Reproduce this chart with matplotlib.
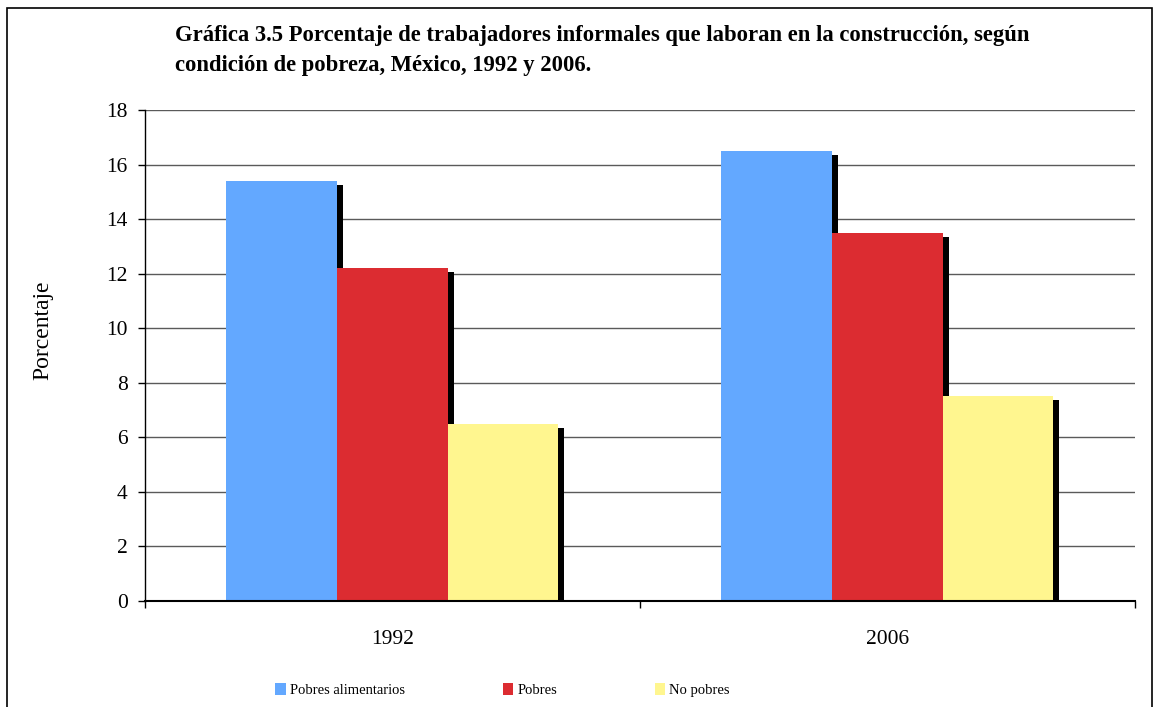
import matplotlib
matplotlib.use("Agg")
import matplotlib.pyplot as plt
import matplotlib.patheffects as pe
import numpy as np
from matplotlib.patches import Rectangle, Patch

plt.rcParams["font.family"] = ["Liberation Serif", "DejaVu Serif"]

# Data
years = ["1992", "2006"]
series_names = ["Pobres alimentarios", "Pobres", "No pobres"]
pobres_alimentarios = [15.4, 16.5]
pobres = [12.2, 13.5]
no_pobres = [6.5, 7.5]
colors = ["#63A8FF", "#DC2C31", "#FFF68F"]

title_1 = "Gráfica 3.5 Porcentaje de trabajadores informales que laboran en la construcción, según"
title_2 = "condición de pobreza, México, 1992 y 2006."

fig = plt.figure(figsize=(11.58, 7.07), dpi=100)
ax = fig.add_axes([0.1252, 0.1499, 0.9801 - 0.1252, 0.8444 - 0.1499])

x = np.arange(len(years))
width = 0.2236
shadow = [pe.SimplePatchShadow(offset=(4.3, -2.9), shadow_rgbFace="black", alpha=1.0), pe.Normal()]

for i, vals in enumerate([pobres_alimentarios, pobres, no_pobres]):
    bars = ax.bar(x + (i - 1) * width, vals, width, color=colors[i],
                  edgecolor="none", zorder=3)
    for b in bars:
        b.set_path_effects(shadow)

ax.set_xlim(-0.5, 1.5)
ax.set_ylim(0, 18)
ax.set_yticks(np.arange(0, 19, 2))
ax.yaxis.grid(True, color="#5a5a5a", linewidth=1.0, zorder=0)
ax.set_axisbelow(True)

ax.set_xticks(x)
ax.set_xticklabels(years)
ax.set_xticks([-0.5, 0.5, 1.5], minor=True)
ax.tick_params(axis="x", which="major", length=0, pad=21, labelsize=15.5)
ax.tick_params(axis="x", which="minor", length=5, width=1, direction="out")
ax.tick_params(axis="y", length=5, width=1, direction="out", labelsize=15.5, pad=7.5)

for s in ["top", "right"]:
    ax.spines[s].set_visible(False)
ax.spines["left"].set_linewidth(1.0)
ax.spines["bottom"].set_linewidth(1.5)
ax.spines["bottom"].set_zorder(4)

ax.set_ylabel("Porcentaje", fontsize=17)
ax.yaxis.set_label_coords(-0.093, 0.552)

fig.text(0.151, 1 - 36 / 707, title_1, ha="left", va="center", fontsize=16.3, fontweight="bold")
fig.text(0.151, 1 - 66 / 707, title_2, ha="left", va="center", fontsize=16.3, fontweight="bold")

handles = [Patch(facecolor=c, edgecolor="none") for c in colors]
fig.legend(handles, series_names, loc="center", bbox_to_anchor=(0.434, 1 - 690 / 707),
           ncol=3, frameon=False, fontsize=10.5, handlelength=0.7, handleheight=0.9,
           handletextpad=0.3, columnspacing=6.7)

fig.patches.append(Rectangle((7 / 1158, -0.02), 1145 / 1158, 1.02 - 8 / 707,
                             transform=fig.transFigure, fill=False,
                             edgecolor="black", linewidth=1.2))

fig.savefig("out.png", dpi=100)
